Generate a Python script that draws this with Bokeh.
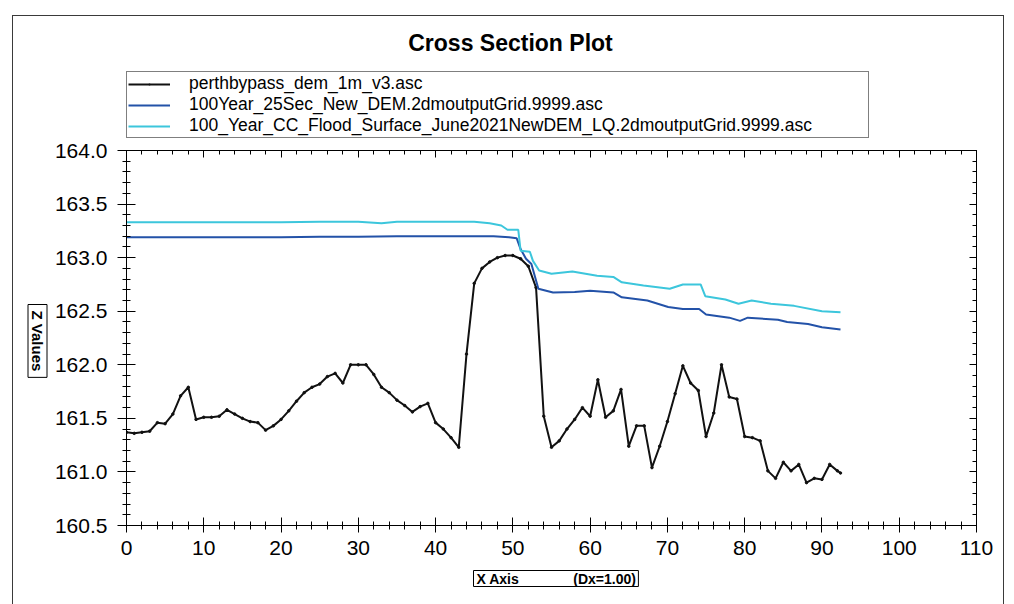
from bokeh.plotting import figure
from bokeh.layouts import column, row
from bokeh.models import (Range1d, LinearAxis, SingleIntervalTicker, PrintfTickFormatter,
                          Legend, LegendItem, Title, Label)
from bokeh.embed import file_html
from bokeh.resources import INLINE

# ---- ground profile (DEM), sampled every 1 m along the section ----
dem_x = list(range(93)) + [92.4]
dem_z = [161.37, 161.36, 161.37, 161.38, 161.46, 161.45, 161.54, 161.71, 161.79, 161.49,
         161.51, 161.51, 161.52, 161.58, 161.54, 161.50, 161.47, 161.46, 161.39, 161.43,
         161.49, 161.57, 161.66, 161.74, 161.79, 161.82, 161.89, 161.92, 161.83, 162.00,
         162.00, 162.00, 161.91, 161.79, 161.74, 161.67, 161.62, 161.56, 161.61, 161.64,
         161.46, 161.40, 161.32, 161.23, 162.10, 162.76, 162.90, 162.96, 163.00, 163.02,
         163.02, 162.99, 162.92, 162.72, 161.52, 161.23, 161.29, 161.40, 161.49, 161.60,
         161.52, 161.86, 161.51, 161.57, 161.77, 161.24, 161.43, 161.43, 161.04, 161.24,
         161.47, 161.73, 161.99, 161.83, 161.76, 161.33, 161.55, 162.00, 161.70, 161.68,
         161.33, 161.32, 161.29, 161.01, 160.94, 161.09, 161.01, 161.07, 160.90, 160.94,
         160.93, 161.07, 161.01, 160.99]

# ---- 100 year flood surface ----
q100_x = [0, 5, 10, 15, 20, 25, 30, 35, 40, 45, 47.5, 49.5, 50.5, 51.0, 51.7, 52.4, 53.3, 55.2,
          58.0, 60.0, 63.0, 64.1, 67.4, 70.1, 72.0, 74.1, 75.0, 78.0, 79.4, 80.4, 84.3, 85.5,
          88.2, 90.0, 92.4]
q100_z = [163.19, 163.19, 163.19, 163.19, 163.19, 163.195, 163.195, 163.20, 163.20, 163.20,
          163.20, 163.19, 163.18, 163.08, 162.99, 162.94, 162.71, 162.675, 162.68, 162.69,
          162.675, 162.63, 162.60, 162.54, 162.52, 162.52, 162.47, 162.44, 162.41, 162.44,
          162.42, 162.40, 162.38, 162.35, 162.33]

# ---- 100 year climate change flood surface ----
cc_x = [0, 5, 10, 15, 20, 25, 30, 33, 35, 40, 45, 47, 48.5, 49.3, 50.7, 51.0, 52.2, 52.6, 53.4,
        55.0, 57.7, 60.9, 63.0, 64.1, 66.9, 70.3, 72.0, 74.3, 74.9, 77.5, 79.2, 80.9, 83.4,
        86.4, 90.0, 92.4]
cc_z = [163.33, 163.33, 163.33, 163.33, 163.33, 163.335, 163.335, 163.32, 163.335, 163.335,
        163.335, 163.32, 163.30, 163.26, 163.26, 163.065, 163.055, 162.97, 162.88, 162.85,
        162.87, 162.83, 162.82, 162.77, 162.74, 162.71, 162.75, 162.75, 162.64, 162.61,
        162.57, 162.60, 162.57, 162.55, 162.50, 162.49]

series_labels = ["perthbypass_dem_1m_v3.asc",
                 "100Year_25Sec_New_DEM.2dmoutputGrid.9999.asc",
                 "100_Year_CC_Flood_Surface_June2021NewDEM_LQ.2dmoutputGrid.9999.asc"]
series_colors = ["#111111", "#2352a8", "#3cc6dc"]

X_MIN, X_MAX = 0, 110
Z_MIN, Z_MAX = 160.5, 164.0

FONT = "Liberation Sans"

# layout geometry (pixels)
TOTAL_W = 990
HEAD_H = 124                    # title + legend strip
SIDE_W = 38                     # strip with the vertical z caption
MAIN_W, MAIN_H = TOTAL_W - SIDE_W, 464
LEFT, TOP, FW, FH = 75, 10, 850, 375

# ---------------- main chart ----------------
p = figure(width=MAIN_W, height=MAIN_H, x_range=Range1d(X_MIN, X_MAX),
           y_range=Range1d(Z_MIN, Z_MAX), output_backend="svg", toolbar_location=None,
           x_axis_type=None, y_axis_type=None,
           min_border_left=LEFT, min_border_top=TOP,
           min_border_right=MAIN_W - LEFT - FW, min_border_bottom=MAIN_H - TOP - FH,
           background_fill_color="white", border_fill_color="white",
           outline_line_color="black", outline_line_width=1)
p.grid.visible = False

x_ticker = SingleIntervalTicker(interval=10, num_minor_ticks=5)
z_ticker = SingleIntervalTicker(interval=0.5, num_minor_ticks=5)

bottom = LinearAxis(ticker=x_ticker, formatter=PrintfTickFormatter(format="%d"),
                    major_tick_in=8, major_tick_out=7, minor_tick_in=4, minor_tick_out=4,
                    major_label_standoff=8, major_label_text_font=FONT,
                    major_label_text_font_size="21px", major_label_text_color="black",
                    axis_line_color="black", major_tick_line_color="black",
                    minor_tick_line_color="black")
left = LinearAxis(ticker=z_ticker, formatter=PrintfTickFormatter(format="%.1f"),
                  major_tick_in=9, major_tick_out=9, minor_tick_in=4, minor_tick_out=4,
                  major_label_standoff=10, major_label_text_font=FONT,
                  major_label_text_font_size="21px", major_label_text_color="black",
                  axis_line_color="black", major_tick_line_color="black",
                  minor_tick_line_color="black")
# tick-only axes on the top and right edges of the frame
top = LinearAxis(ticker=x_ticker, major_tick_in=7, major_tick_out=0, minor_tick_in=4,
                 minor_tick_out=0, major_label_text_font_size="1px",
                 major_label_text_color=None, major_label_standoff=0,
                 axis_line_color="black")
right = LinearAxis(ticker=z_ticker, major_tick_in=7, major_tick_out=0, minor_tick_in=4,
                   minor_tick_out=0, major_label_text_font_size="1px",
                   major_label_text_color=None, major_label_standoff=0,
                   axis_line_color="black")
p.add_layout(bottom, "below")
p.add_layout(left, "left")
p.add_layout(top, "above")
p.add_layout(right, "right")

p.line(dem_x, dem_z, line_color=series_colors[0], line_width=2)
p.scatter(dem_x, dem_z, size=2.5, color=series_colors[0])
p.line(q100_x, q100_z, line_color=series_colors[1], line_width=2)
p.line(cc_x, cc_z, line_color=series_colors[2], line_width=2)

NBSP = "\u00a0"
p.add_layout(Title(text="X Axis" + NBSP * 14 + "(Dx=1.00)", align="left", offset=347,
                   vertical_align="top", standoff=26, text_font=FONT, text_font_style="bold",
                   text_font_size="14px", text_color="black",
                   border_line_color="black", border_line_width=1,
                   background_fill_color="white",
                   padding={"left": 3, "right": 2, "top": 0, "bottom": 0}), "below")

# ---------------- vertical z caption strip ----------------
zfig = figure(width=SIDE_W, height=MAIN_H, output_backend="svg", toolbar_location=None,
              x_axis_type=None, y_axis_type=None, min_border=0,
              outline_line_color=None, background_fill_color="white",
              border_fill_color="white")
zfig.grid.visible = False
zfig.add_layout(Title(text="Z Values", align="left", offset=154, vertical_align="middle",
                      standoff=17, text_font=FONT, text_font_style="bold",
                      text_font_size="15px", text_color="black",
                      border_line_color="black", border_line_width=1,
                      background_fill_color="white",
                      padding={"left": 6, "right": 6, "top": 1, "bottom": 1}), "right")

# ---------------- header: title and legend ----------------
head = figure(width=TOTAL_W, height=HEAD_H, x_range=Range1d(0, 1), y_range=Range1d(0, 1),
              output_backend="svg", toolbar_location=None,
              x_axis_type=None, y_axis_type=None, min_border=0,
              outline_line_color=None, background_fill_color="white",
              border_fill_color="white")
head.grid.visible = False

# legend keys: same series and styles, lying outside this strip's ranges so only the
# legend swatches show
k_dem = head.line(dem_x, dem_z, line_color=series_colors[0], line_width=2)
k_dem_dot = head.scatter(dem_x, dem_z, marker="dot", size=10, color=series_colors[0])
k_q100 = head.line(q100_x, q100_z, line_color=series_colors[1], line_width=2)
k_cc = head.line(cc_x, cc_z, line_color=series_colors[2], line_width=2)

legend = Legend(items=[LegendItem(label=series_labels[0], renderers=[k_dem, k_dem_dot]),
                       LegendItem(label=series_labels[1], renderers=[k_q100]),
                       LegendItem(label=series_labels[2], renderers=[k_cc])],
                location=(113, 2), padding=1, spacing=0, margin=0,
                label_height=20, glyph_height=20, glyph_width=42, label_standoff=19,
                label_width=678, label_text_font=FONT, label_text_font_size="17.5px",
                label_text_color="black", border_line_color="black", border_line_width=1,
                background_fill_color="white", background_fill_alpha=1)
head.add_layout(legend)

head.add_layout(Label(x=497, y=98, x_units="screen", y_units="screen",
                      text="Cross Section Plot", text_font=FONT, text_font_style="bold",
                      text_font_size="23px", text_color="black",
                      text_align="center", text_baseline="middle"))

page = column(head, row(zfig, p, spacing=0), spacing=0,
              styles={"margin": "15px 0px 0px 12px", "border": "1px solid #3a3a3a",
                      "background": "white"})

open("out.html", "w").write(file_html(page, INLINE))
